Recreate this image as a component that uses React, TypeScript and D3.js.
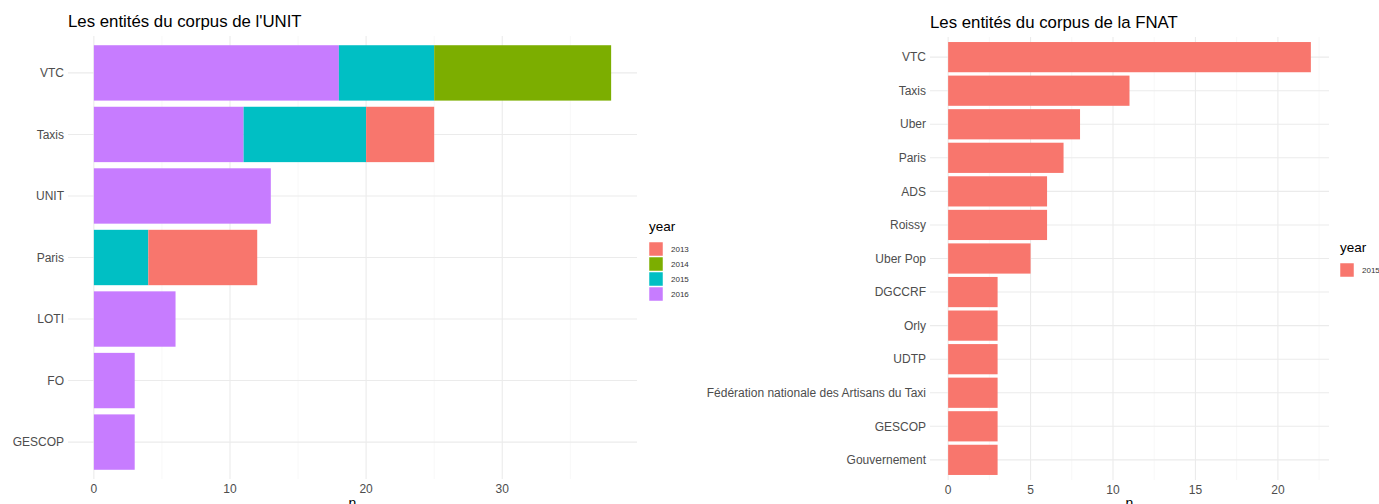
import React from "react";
import * as d3 from "d3";

const YEARS = ["2013", "2014", "2015", "2016"];
const YEAR_COLORS = ["#F8766D", "#7CAE00", "#00BFC4", "#C77CFF"];

const UNIT_CATEGORIES = ["VTC", "Taxis", "UNIT", "Paris", "LOTI", "FO", "GESCOP"];
const UNIT_2013 = [0, 5, 0, 8, 0, 0, 0];
const UNIT_2014 = [13, 0, 0, 0, 0, 0, 0];
const UNIT_2015 = [7, 9, 0, 4, 0, 0, 0];
const UNIT_2016 = [18, 11, 13, 0, 6, 3, 3];
const UNIT_TICKS = [0, 10, 20, 30];

const FNAT_CATEGORIES = [
  "VTC", "Taxis", "Uber", "Paris", "ADS", "Roissy", "Uber Pop", "DGCCRF",
  "Orly", "UDTP", "Fédération nationale des Artisans du Taxi", "GESCOP", "Gouvernement",
];
const FNAT_2015 = [22, 11, 8, 7, 6, 6, 5, 3, 3, 3, 3, 3, 3];
const FNAT_TICKS = [0, 5, 10, 15, 20];

const FONT = "'Liberation Sans', Arial, Helvetica, sans-serif";

type Seg = { idx: number; year: string; x0: number; x1: number; color: string };

function Panel(props: {
  title: string;
  cats: string[];
  series: { year: string; color: string; values: number[] }[];
  ticks: number[];
  minor: number[];
  left: number;
  right: number;
  top: number;
  bottom: number;
  titleX: number;
  legendX: number;
  legendY: number;
}) {
  const { cats, series, left, right, top, bottom } = props;
  const totals = cats.map((_, i) => d3.sum(series, (s) => s.values[i]));
  const max = d3.max(totals) as number;
  const pad = max * 0.05;
  const x = d3.scaleLinear().domain([-pad, max + pad]).range([left, right]);
  const n = cats.length;
  const y = d3.scaleLinear().domain([0.4, n + 0.6]).range([top, bottom]);
  const bw = y(1.45) - y(0.55);

  // stacking: last level at base, first level on top
  const segs: Seg[] = [];
  cats.forEach((_, i) => {
    let acc = 0;
    for (let k = series.length - 1; k >= 0; k--) {
      const v = series[k].values[i];
      if (v > 0) {
        segs.push({ idx: i, year: series[k].year, x0: acc, x1: acc + v, color: series[k].color });
        acc += v;
      }
    }
  });
  const center = (i: number) => y(i + 1);

  return (
    <g>
      <text x={props.titleX} y={top - 9} fontSize={16.8} fill="#000" fontFamily={FONT}>
        {props.title}
      </text>
      {props.minor.map((t) => (
        <line key={"m" + t} x1={x(t)} x2={x(t)} y1={top} y2={bottom} stroke="#f2f2f2" strokeWidth={0.6} />
      ))}
      {props.ticks.map((t) => (
        <line key={"M" + t} x1={x(t)} x2={x(t)} y1={top} y2={bottom} stroke="#ebebeb" strokeWidth={1.1} />
      ))}
      {cats.map((c, i) => (
        <line key={"h" + c} x1={left} x2={right} y1={center(i)} y2={center(i)} stroke="#ebebeb" strokeWidth={1.1} />
      ))}
      {segs.map((s, i) => (
        <rect
          key={i}
          x={x(s.x0)}
          width={x(s.x1) - x(s.x0)}
          y={center(s.idx) - bw / 2}
          height={bw}
          fill={s.color}
        />
      ))}
      {cats.map((c, i) => (
        <text
          key={"l" + c}
          x={left - 4}
          y={center(i)}
          dy="0.35em"
          textAnchor="end"
          fontSize={12}
          fill="#4d4d4d"
          fontFamily={FONT}
        >
          {c}
        </text>
      ))}
      {props.ticks.map((t) => (
        <text
          key={"t" + t}
          x={x(t)}
          y={bottom + 14}
          textAnchor="middle"
          fontSize={12}
          fill="#4d4d4d"
          fontFamily={FONT}
        >
          {t}
        </text>
      ))}
      <text x={(left + right) / 2} y={508} textAnchor="middle" fontSize={14} fill="#000" fontFamily={FONT}>
        n
      </text>
      <text x={props.legendX} y={props.legendY} fontSize={13.5} fill="#000" fontFamily={FONT}>
        year
      </text>
      {series.map((s, k) => (
        <g key={"lg" + s.year}>
          <rect
            x={props.legendX}
            y={props.legendY + 11 + k * 15}
            width={14}
            height={14}
            fill={s.color}
            stroke="#fff"
            strokeWidth={0.5}
          />
          <text
            x={props.legendX + 22}
            y={props.legendY + 18 + k * 15}
            dy="0.35em"
            fontSize={8}
            fill="#333"
            fontFamily={FONT}
          >
            {s.year}
          </text>
        </g>
      ))}
    </g>
  );
}

export default function App() {
  const unitSeries = [
    { year: YEARS[0], color: YEAR_COLORS[0], values: UNIT_2013 },
    { year: YEARS[1], color: YEAR_COLORS[1], values: UNIT_2014 },
    { year: YEARS[2], color: YEAR_COLORS[2], values: UNIT_2015 },
    { year: YEARS[3], color: YEAR_COLORS[3], values: UNIT_2016 },
  ];
  const fnatSeries = [{ year: YEARS[2], color: YEAR_COLORS[0], values: FNAT_2015 }];
  return (
    <div style={{ position: "absolute", left: 0, top: 0 }}>
      <svg width={1379} height={504} style={{ display: "block", background: "#fff" }}>
        <Panel
          title="Les entités du corpus de l'UNIT"
          cats={UNIT_CATEGORIES}
          series={unitSeries}
          ticks={UNIT_TICKS}
          minor={[5, 15, 25, 35]}
          left={68}
          right={637}
          top={36}
          bottom={479}
          titleX={68}
          legendX={649}
          legendY={231}
        />
        <Panel
          title="Les entités du corpus de la FNAT"
          cats={FNAT_CATEGORIES}
          series={fnatSeries}
          ticks={FNAT_TICKS}
          minor={[2.5, 7.5, 12.5, 17.5, 22.5]}
          left={930}
          right={1329}
          top={37}
          bottom={480}
          titleX={930}
          legendX={1340}
          legendY={252}
        />
      </svg>
    </div>
  );
}
